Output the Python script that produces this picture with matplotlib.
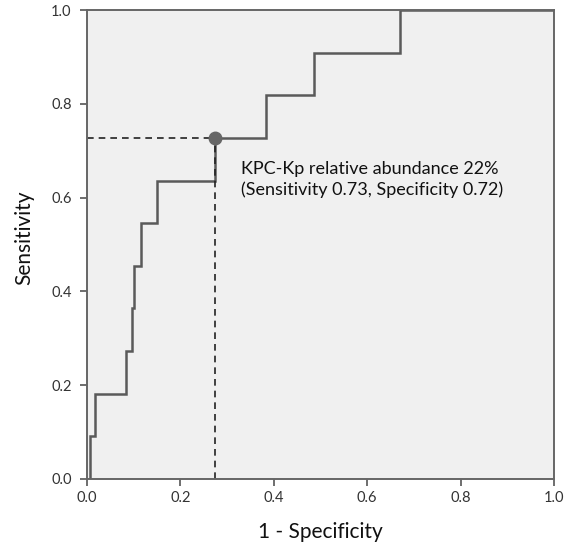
import matplotlib.pyplot as plt

# ROC step curve (1 - specificity, sensitivity)
fpr = [0.0, 0.007, 0.007, 0.017, 0.017, 0.083, 0.083, 0.096, 0.096, 0.100,
       0.100, 0.116, 0.116, 0.149, 0.149, 0.275, 0.275, 0.383, 0.383, 0.486,
       0.486, 0.670, 0.670, 1.0]
tpr = [0.0, 0.0, 0.091, 0.091, 0.182, 0.182, 0.273, 0.273, 0.364, 0.364,
       0.455, 0.455, 0.545, 0.545, 0.636, 0.636, 0.727, 0.727, 0.818, 0.818,
       0.909, 0.909, 1.0, 1.0]

# optimal cut-off point
cut_fpr = 0.275
cut_tpr = 0.727
cut_label = "KPC-Kp relative abundance 22%\n(Sensitivity 0.73, Specificity 0.72)"

ticks = [0.0, 0.2, 0.4, 0.6, 0.8, 1.0]

plt.rcParams['font.family'] = ['Lato', 'DejaVu Sans']

fig = plt.figure(figsize=(5.75, 5.44), dpi=100)
ax = fig.add_axes([0.1513, 0.1195, 0.8122, 0.8621])
ax.set_facecolor('#f0f0f0')

ax.plot(fpr, tpr, color='#5a5a5a', lw=1.8, solid_joinstyle='miter')

# dashed guides to the cut-off
ax.plot([0, cut_fpr], [cut_tpr, cut_tpr], color='#222222', lw=1.2, ls=(0, (4, 3)))
ax.plot([cut_fpr, cut_fpr], [0, cut_tpr], color='#222222', lw=1.2, ls=(0, (4, 3)))
ax.plot([cut_fpr], [cut_tpr], 'o', color='#666666', markersize=9, zorder=5)

ax.text(0.329, 0.638, cut_label, fontsize=13, color='#111111',
        ha='left', va='center', linespacing=1.3)

ax.set_xlim(0, 1)
ax.set_ylim(0, 1)
ax.set_xticks(ticks)
ax.set_yticks(ticks)
ax.set_xticklabels([f"{t:.1f}" for t in ticks])
ax.set_yticklabels([f"{t:.1f}" for t in ticks])
ax.tick_params(axis='both', direction='out', length=5, width=1.2,
               color='#555555', labelcolor='#333333', labelsize=10.5)
ax.tick_params(axis='x', pad=4)
ax.tick_params(axis='y', pad=6)

for side in ['left', 'bottom', 'top', 'right']:
    ax.spines[side].set_color('#666666')
    ax.spines[side].set_linewidth(1.4)

ax.set_xlabel('1 - Specificity', fontsize=15, color='#111111', labelpad=12)
ax.set_ylabel('Sensitivity', fontsize=15, color='#111111')
ax.yaxis.set_label_coords(-0.113, 0.515)

fig.savefig('out.png', dpi=100)
